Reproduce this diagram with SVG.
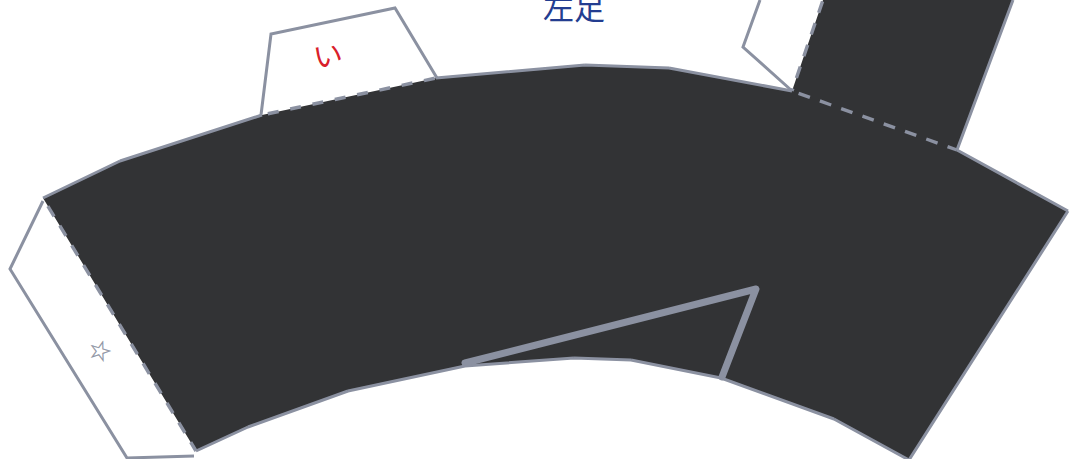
<svg xmlns="http://www.w3.org/2000/svg" width="1080" height="459" viewBox="0 0 1080 459">
<style>
.fill{fill:#323335;stroke:none}
.edge{fill:none;stroke:#8b91a1;stroke-width:3}
.tab{fill:none;stroke:#8b91a1;stroke-width:3;stroke-linejoin:miter}
.fold{fill:none;stroke:#8b91a1;stroke-width:3.4}
.tuck{fill:none;stroke:#8b91a1;stroke-width:7;stroke-linecap:round;stroke-linejoin:round}
text{font-family:"Noto Sans CJK JP","Noto Sans",sans-serif}
</style>
<g id="body">
<polygon class="fill" points="43,198 120,161 262,115 436,78 585,65 669,68 792,91 823,0 1013,0 957,150 1068,211 909,460 834,419 721,378 631,360 574,358 465,366 348,391 248,427 196,451"/>
</g>
<g id="tab-left">
<polyline class="tab" points="43,201 10,269 127,458 194,456"/>
<text x="100" y="360" font-size="27" fill="#8b91a1" stroke="#8b91a1" stroke-width="0.3" text-anchor="middle" transform="rotate(17 100 351)" style="font-family:'DejaVu Sans',sans-serif">☆</text>
</g>
<g id="tab-top">
<polyline class="tab" points="261,115 271,34 395,8 437,78"/>
<text x="328" y="66" font-size="29" fill="#d9202a" text-anchor="middle" transform="rotate(-9 328 56)">い</text>
</g>
<g id="tab-right">
<polyline class="tab" points="760,0 743,47 791,90"/>
</g>
<g id="label">
<text x="574" y="19" font-size="31" fill="#233d90" text-anchor="middle">左足</text>
</g>
<g id="connectors">
<path class="edge" d="M196,451L248,427M248,427L348,391M348,391L465,366M465,366L574,358M574,358L631,360M631,360L721,378M721,378L834,419M834,419L909,460M909,460L1068,211M1068,211L957,150M43,198L120,161M120,161L262,115M436,78L585,65M585,65L669,68M669,68L792,91M957,150L1013,0"/>
<line class="fold" x1="43" y1="198" x2="196" y2="451" stroke-dasharray="12 11" stroke-dashoffset="-9.4"/>
<line class="fold" x1="262" y1="115" x2="436" y2="78" stroke-dasharray="11 11.8" stroke-dashoffset="-6"/>
<line class="fold" x1="792" y1="91" x2="957" y2="150" stroke-dasharray="12 10.6" stroke-dashoffset="-7"/>
<line class="fold" x1="792" y1="91" x2="823" y2="0" stroke-dasharray="12 11" stroke-dashoffset="-13.7"/>
<polyline class="tuck" points="465,363 756,289 722,377"/>
</g>
</svg>
